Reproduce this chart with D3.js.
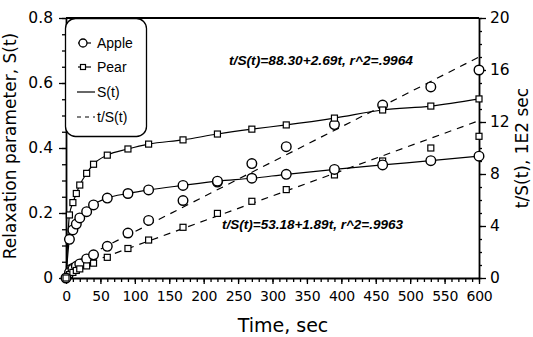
<!DOCTYPE html>
<html>
<head>
<meta charset="utf-8">
<script src="https://cdn.jsdelivr.net/npm/d3@7"></script>
<style>
  body { margin: 0; background: #fff; }
  svg { display: block; }
  .tick text { font-family: "DejaVu Sans", sans-serif; fill: #000; }
</style>
</head>
<body>
<div id="chart"></div>
<script>
// sampling times (sec)
var times = [0, 5, 10, 15, 20, 30, 40, 60, 90, 120, 170, 220, 270, 320, 390, 460, 530, 600];
// relaxation parameter S(t)
var appleS = [0, 0.119, 0.148, 0.166, 0.185, 0.204, 0.225, 0.246, 0.26, 0.271, 0.285, 0.298, 0.307, 0.319, 0.334, 0.348, 0.361, 0.375];
var pearS = [0, 0.194, 0.232, 0.26, 0.286, 0.322, 0.35, 0.378, 0.397, 0.412, 0.425, 0.443, 0.458, 0.471, 0.492, 0.517, 0.529, 0.551];
// t/S(t) in 1E2 sec, from t = 5 on
var tsTimes = times.slice(1);
var appleTS = [0.42, 0.68, 0.9, 1.08, 1.47, 1.78, 2.44, 3.46, 4.43, 5.96, 7.38, 8.8, 10.1, 11.8, 13.3, 14.7, 16.0];
var pearTS = [0.26, 0.43, 0.58, 0.7, 0.93, 1.14, 1.59, 2.27, 2.92, 3.9, 4.97, 5.9, 6.8, 7.93, 9.0, 10.0, 10.9];
// regression lines (t, t/S in 1E2 sec)
var appleFit = [[0, 0.88], [600, 17.0]];
var pearFit = [[0, 0.53], [600, 12.1]];
var appleEq = "t/S(t)=88.30+2.69t, r^2=.9964";
var pearEq = "t/S(t)=53.18+1.89t, r^2=.9963";

var leftTicks = [0, 0.2, 0.4, 0.6, 0.8];
var rightTicks = [0, 4, 8, 12, 16, 20];
var xTicks = d3.range(0, 601, 50);

var width = 533, height = 337;
var margin = { top: 18, right: 54, bottom: 59, left: 66 };

var svg = d3.select("#chart").append("svg")
    .attr("width", width)
    .attr("height", height);

var x = d3.scaleLinear().domain([0, 600]).range([margin.left, width - margin.right]);
var yL = d3.scaleLinear().domain([0, 0.8]).range([height - margin.bottom, margin.top]);
var yR = d3.scaleLinear().domain([0, 20]).range([height - margin.bottom, margin.top]);

// frame top line
svg.append("line")
    .attr("x1", x(0)).attr("x2", x(600))
    .attr("y1", yL(0.8)).attr("y2", yL(0.8))
    .attr("stroke", "#000").attr("stroke-width", 2);

// minor ticks
svg.append("g")
    .attr("transform", "translate(" + x(0) + ",0)")
    .call(d3.axisLeft(yL).tickValues(d3.range(0, 0.81, 0.05)).tickSize(4).tickFormat(""))
    .call(g => g.select(".domain").remove());
svg.append("g")
    .attr("transform", "translate(0," + yL(0) + ")")
    .call(d3.axisBottom(x).tickValues(d3.range(0, 601, 10)).tickSize(4).tickFormat(""))
    .call(g => g.select(".domain").remove());
svg.append("g")
    .attr("transform", "translate(" + x(600) + ",0)")
    .call(d3.axisRight(yR).tickValues(d3.range(0, 21, 1)).tickSize(3).tickFormat(""))
    .call(g => g.select(".domain").remove());

// major axes
var axL = svg.append("g")
    .attr("transform", "translate(" + x(0) + ",0)")
    .call(d3.axisLeft(yL).tickValues(leftTicks).tickSize(7).tickSizeOuter(0).tickPadding(6)
        .tickFormat(d => d === 0 ? "0" : d3.format(".1f")(d)));
axL.selectAll("text").style("font-size", "15.5px");

var axB = svg.append("g")
    .attr("transform", "translate(0," + yL(0) + ")")
    .call(d3.axisBottom(x).tickValues(xTicks).tickSize(6).tickSizeOuter(0).tickPadding(7));
axB.selectAll("text").style("font-size", "14px").attr("letter-spacing", "-0.3px");

var axR = svg.append("g")
    .attr("transform", "translate(" + x(600) + ",0)")
    .call(d3.axisRight(yR).tickValues(rightTicks).tickSize(7).tickSizeOuter(0).tickPadding(4));
axR.selectAll("text").style("font-size", "15.5px");

svg.selectAll(".domain").attr("stroke-width", 1.8);
svg.selectAll(".tick line").attr("stroke-width", 1.3);

// axis titles
svg.append("text")
    .attr("transform", "translate(16," + 146 + ") rotate(-90)")
    .attr("text-anchor", "middle")
    .style("font-family", "DejaVu Sans, sans-serif")
    .style("font-size", "17px")
    .text("Relaxation parameter, S(t)");

svg.append("text")
    .attr("transform", "translate(528," + 148 + ") rotate(-90)")
    .attr("text-anchor", "middle")
    .style("font-family", "DejaVu Sans, sans-serif")
    .style("font-size", "17px")
    .text("t/S(t), 1E2 sec");

svg.append("text")
    .attr("x", 283).attr("y", 332)
    .attr("text-anchor", "middle")
    .style("font-family", "DejaVu Sans, sans-serif")
    .style("font-size", "19px")
    .text("Time, sec");

// S(t) curves
var sLine = d3.line()
    .x(d => x(d[0]))
    .y(d => yL(d[1]))
    .curve(d3.curveMonotoneX);

var appleSData = times.map((t, i) => [t, appleS[i]]);
var pearSData = times.map((t, i) => [t, pearS[i]]);
var appleTSData = tsTimes.map((t, i) => [t, appleTS[i]]);
var pearTSData = tsTimes.map((t, i) => [t, pearTS[i]]);

[appleSData, pearSData].forEach(function (data) {
    svg.append("path")
        .datum(data)
        .attr("fill", "none")
        .attr("stroke", "#000")
        .attr("stroke-width", 1.2)
        .attr("d", sLine);
});

// regression lines for t/S(t)
var fitLine = d3.line().x(d => x(d[0])).y(d => yR(d[1]));
[appleFit, pearFit].forEach(function (data) {
    svg.append("path")
        .datum(data)
        .attr("fill", "none")
        .attr("stroke", "#000")
        .attr("stroke-width", 1.2)
        .attr("stroke-dasharray", "7,6")
        .attr("d", fitLine);
});

// markers
function circles(data, yScale) {
    svg.append("g").selectAll("circle")
        .data(data)
        .join("circle")
        .attr("cx", d => x(d[0]))
        .attr("cy", d => yScale(d[1]))
        .attr("r", 4.8)
        .attr("fill", "#fff")
        .attr("stroke", "#000")
        .attr("stroke-width", 1.4);
}
function squares(data, yScale) {
    svg.append("g").selectAll("rect")
        .data(data)
        .join("rect")
        .attr("x", d => x(d[0]) - 3)
        .attr("y", d => yScale(d[1]) - 3)
        .attr("width", 6)
        .attr("height", 6)
        .attr("fill", "#fff")
        .attr("stroke", "#000")
        .attr("stroke-width", 1.2);
}
circles(appleTSData, yR);
squares(pearTSData, yR);
circles(appleSData, yL);
squares(pearSData, yL);

// equations
[[appleEq, 229, 65, 184], [pearEq, 222, 229, 181]].forEach(function (e) {
    svg.append("text")
        .attr("x", e[1]).attr("y", e[2])
        .style("font-family", "Liberation Sans, sans-serif")
        .style("font-size", "12px")
        .style("font-style", "italic")
        .style("font-weight", "bold")
        .attr("textLength", e[3])
        .attr("lengthAdjust", "spacingAndGlyphs")
        .text(e[0]);
});

// legend
var legend = svg.append("g");
legend.append("rect")
    .attr("x", 65.5).attr("y", 18.5)
    .attr("width", 81).attr("height", 118)
    .attr("rx", 10)
    .attr("fill", "#fff")
    .attr("stroke", "#000")
    .attr("stroke-width", 1.3);

var legendItems = [
    { label: "Apple", marker: "circle", dash: null, y: 43 },
    { label: "Pear", marker: "square", dash: null, y: 67 },
    { label: "S(t)", marker: null, dash: null, y: 92 },
    { label: "t/S(t)", marker: null, dash: "4,4", y: 117 }
];
legendItems.forEach(function (d) {
    var g = legend.append("g");
    if (d.marker) {
        g.append("line").attr("x1", 78).attr("x2", 91).attr("y1", d.y).attr("y2", d.y)
            .attr("stroke", "#000").attr("stroke-width", 1.2);
        if (d.marker === "circle") {
            g.append("circle").attr("cx", 83).attr("cy", d.y).attr("r", 4)
                .attr("fill", "#fff").attr("stroke", "#000").attr("stroke-width", 1.3);
        } else {
            g.append("rect").attr("x", 80.5).attr("y", d.y - 2.5).attr("width", 5).attr("height", 5)
                .attr("fill", "#fff").attr("stroke", "#000").attr("stroke-width", 1.2);
        }
    } else {
        g.append("line").attr("x1", 77).attr("x2", 95).attr("y1", d.y).attr("y2", d.y)
            .attr("stroke", "#000").attr("stroke-width", 1.2)
            .attr("stroke-dasharray", d.dash);
    }
    g.append("text")
        .attr("x", 97).attr("y", d.y + 5)
        .style("font-family", "Liberation Sans, sans-serif")
        .style("font-size", "14px")
        .text(d.label);
});
</script>
</body>
</html>
